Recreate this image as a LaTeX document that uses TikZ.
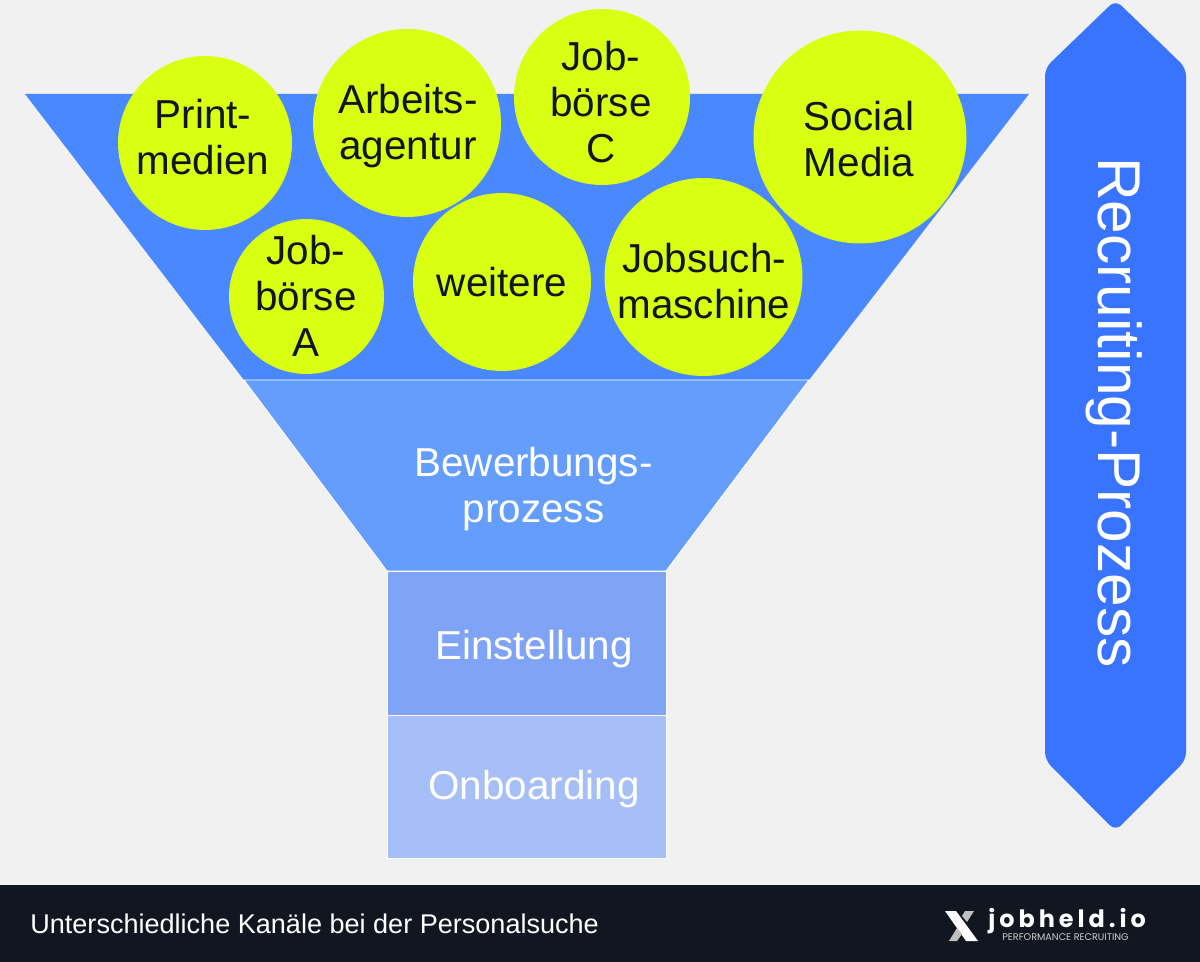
\documentclass[tikz,border=0pt]{standalone}
\usepackage{fontspec}
\setmainfont{Liberation Sans}
\newfontfamily\logofont{Poppins}
\definecolor{pagegrey}{HTML}{F1F1F1}
\definecolor{footdark}{HTML}{111620}
\definecolor{bandblue}{HTML}{3874FF}
\definecolor{topblue}{HTML}{4A88FF}
\definecolor{midblue}{HTML}{659DFC}
\definecolor{lowblue}{HTML}{7FA4F6}
\definecolor{lastblue}{HTML}{A7BFF7}
\definecolor{ballgreen}{HTML}{D9FF12}
\definecolor{inktext}{HTML}{11151C}
\tikzset{
	ball/.style={circle, fill=ballgreen, inner sep=0pt},
	balltext/.style={align=center, inner sep=0pt, text=inktext, font=\fontsize{23}{26.2}\selectfont},
	stage/.style={text=white, align=center, font=\fontsize{23}{26.2}\selectfont},
}
\begin{document}
\begin{tikzpicture}[x=0.02cm,y=-0.02cm]
		\useasboundingbox (0,0) rectangle (1200,962);
		\fill[pagegrey] (0,0) rectangle (1200,962);
		\fill[footdark] (0,885) rectangle (1200,962);
		% funnel
		\fill[topblue] (25,94)--(1029,94)--(809,380)--(244,380)--cycle;
		\draw[white, line width=0.5pt, fill=midblue] (244,380)--(809,380)--(666,571)--(387,571)--cycle;
		\draw[white, line width=0.5pt, fill=lowblue] (387.5,571)--(666.5,571)--(666.5,715)--(387.5,715)--cycle;
		\draw[white, line width=0.5pt, fill=lastblue] (387.5,715)--(666.5,715)--(666.5,858)--(387.5,858)--cycle;
		\node[stage] (bewerbung) at (533.5,489) {Bewerbungs-\\prozess};
		\node[stage] (einstellung) at (534,649) {Einstellung};
		\node[stage] (onboarding) at (534,789) {Onboarding};
		% channels
		\node[ball, minimum size=3.48cm] (print) at (205,143) {};
		\node[ball, minimum size=3.76cm] (arbeit) at (407,123) {};
		\node[ball, minimum size=3.52cm] (boerseC) at (602,97) {};
		\node[ball, minimum size=4.26cm] (social) at (860,137) {};
		\node[ball, minimum size=3.10cm] (boerseA) at (306.5,296.5) {};
		\node[ball, minimum size=3.56cm] (weitere) at (502,282) {};
		\node[ball, minimum size=3.96cm] (suche) at (703.5,277) {};
		\node[balltext] (printlabel) at (203,137) {Print-\\medien};
		\node[balltext] (arbeitlabel) at (408,126) {Arbeits-\\agentur};
		\node[balltext] (boerseClabel) at (601,102) {Job-\\börse\\C};
		\node[balltext] (sociallabel) at (859,139) {Social\\Media};
		\node[balltext] (boerseAlabel) at (306,296) {Job-\\börse\\A};
		\node[balltext] (weiterelabel) at (502,282) {weitere};
		\node[balltext] (suchelabel) at (704,281) {Jobsuch-\\maschine};
		% side band
		\fill[bandblue, rounded corners=0.16cm] (1045,68)--(1115.5,0)--(1186,68)--(1186,760)--(1115.5,831)--(1045,760)--cycle;
		\node[rotate=-90, text=white, font=\fontsize{34.4}{38}\selectfont] (prozess) at (1114,412.5) {Recruiting-Prozess};
		% footer
		\node[anchor=west, text=white, inner sep=0pt, font=\fontsize{15.4}{18}\selectfont] (caption) at (30,924) {Unterschiedliche Kanäle bei der Personalsuche};
		\fill[white] (945,911)--(956,911)--(978,941)--(966,941)--cycle;
		\fill[white!75!black] (965,911)--(974,911)--(967,922)--(962,916)--cycle;
		\fill[white!75!black] (949,941)--(957,941)--(962,934)--(957,928)--cycle;
		\node[anchor=west, text=white, inner sep=0pt, font=\logofont\bfseries\fontsize{13.6}{16}\selectfont] (logo) at (988,921) {j\,o\,b\,h\,e\,l\,d\,.\,i\,o};
		\node[anchor=west, text=white!80!black, inner sep=0pt, font=\logofont\fontsize{5.5}{6}\selectfont] (claim) at (1002,937) {PERFORMANCE RECRUITING};
	\end{tikzpicture}
\end{document}
